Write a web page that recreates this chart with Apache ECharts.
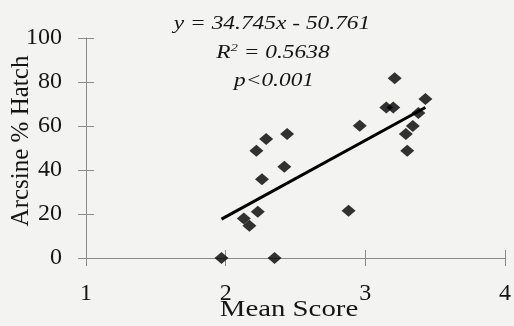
<!DOCTYPE html>
<html>
<head>
<meta charset="utf-8">
<script src="https://cdn.jsdelivr.net/npm/echarts@6/dist/echarts.min.js"></script>
<style>
html,body{margin:0;padding:0;background:#f3f3f2;}
#c{width:514px;height:326px;}
</style>
</head>
<body>
<div id="c"></div>
<script>
// Data
const meanScore = [1.97, 2.35, 2.13, 2.17, 2.23, 2.26, 2.42, 2.22, 2.29, 2.44, 2.88, 2.96, 3.15, 3.20, 3.21, 3.30, 3.29, 3.34, 3.38, 3.43];
const arcsineHatch = [0, 0, 18.0, 14.7, 21.0, 35.8, 41.5, 48.8, 54.1, 56.4, 21.5, 60.1, 68.4, 68.4, 81.7, 48.8, 56.4, 60.0, 65.9, 72.3];
const trendX = [1.97, 3.43];
const trendY = [17.7, 68.4];
const xTicks = [1, 2, 3, 4];
const yTicks = [0, 20, 40, 60, 80, 100];
const eqLines = ['y = 34.745x - 50.761', 'R{s|2} = 0.5638', 'p<0.001'];

const serif = '"Liberation Serif", "DejaVu Serif", serif';
const chart = echarts.init(document.getElementById('c'), null, {renderer: 'canvas'});
const axisGrey = '#8a8a8a';
const textCol = '#151515';

const baseX = {
  type: 'value', min: xTicks[0], max: xTicks[xTicks.length - 1], interval: 1,
  splitLine: {show: false},
};
const baseY = {
  type: 'value', min: yTicks[0], max: yTicks[yTicks.length - 1], interval: 20,
  splitLine: {show: false},
};

chart.setOption({
  backgroundColor: '#f3f3f2',
  animation: false,
  grid: {left: 86, right: 4, top: 38, bottom: 68, containLabel: false},
  xAxis: [
    Object.assign({}, baseX, {
      axisLine: {lineStyle: {color: axisGrey, width: 1}},
      axisTick: {show: true, length: 8, lineStyle: {color: axisGrey}},
      axisLabel: {color: textCol, fontFamily: serif, fontSize: 24, margin: 24},
    }),
    Object.assign({}, baseX, {
      position: 'bottom',
      axisLine: {show: false},
      axisTick: {show: true, inside: true, length: 8, lineStyle: {color: axisGrey}},
      axisLabel: {show: false},
    })
  ],
  yAxis: [
    Object.assign({}, baseY, {
      axisLine: {show: true, lineStyle: {color: axisGrey, width: 1}},
      axisTick: {show: true, length: 8, lineStyle: {color: axisGrey}},
      axisLabel: {color: textCol, fontFamily: serif, fontSize: 24, margin: 24},
    }),
    Object.assign({}, baseY, {
      position: 'left',
      axisLine: {show: false},
      axisTick: {show: true, inside: true, length: 8, lineStyle: {color: axisGrey}},
      axisLabel: {show: false},
    })
  ],
  series: [
    {
      type: 'line',
      data: trendX.map((x, i) => [x, trendY[i]]),
      symbol: 'none',
      lineStyle: {color: '#000', width: 3},
      z: 2,
    },
    {
      type: 'scatter',
      data: meanScore.map((x, i) => [x, arcsineHatch[i]]),
      symbol: 'diamond',
      symbolSize: [14, 12],
      itemStyle: {color: '#000'},
      z: 3,
    }
  ],
  graphic: [
    {type: 'text', x: 272, y: 24, scaleX: 1.3, style: {text: eqLines[0], font: 'italic 18px ' + serif, fill: textCol, align: 'center', verticalAlign: 'middle'}},
    {type: 'text', x: 273, y: 53, scaleX: 1.3, style: {text: eqLines[1], font: 'italic 18px ' + serif, fill: textCol, align: 'center', verticalAlign: 'middle', rich: {s: {fontSize: 11, fontStyle: 'italic', fontFamily: serif, verticalAlign: 'top', padding: [0,0,10,0]}}}},
    {type: 'text', x: 274, y: 81, scaleX: 1.3, style: {text: eqLines[2], font: 'italic 18px ' + serif, fill: textCol, align: 'center', verticalAlign: 'middle'}},
    {type: 'text', x: 289, y: 310, scaleX: 1.2, style: {text: 'Mean Score', font: '24px ' + serif, fill: textCol, align: 'center', verticalAlign: 'middle'}},
    {type: 'text', x: 21, y: 141, rotation: Math.PI / 2, style: {text: 'Arcsine % Hatch', font: '25px ' + serif, fill: textCol, align: 'center', verticalAlign: 'middle'}}
  ]
});
</script>
</body>
</html>
